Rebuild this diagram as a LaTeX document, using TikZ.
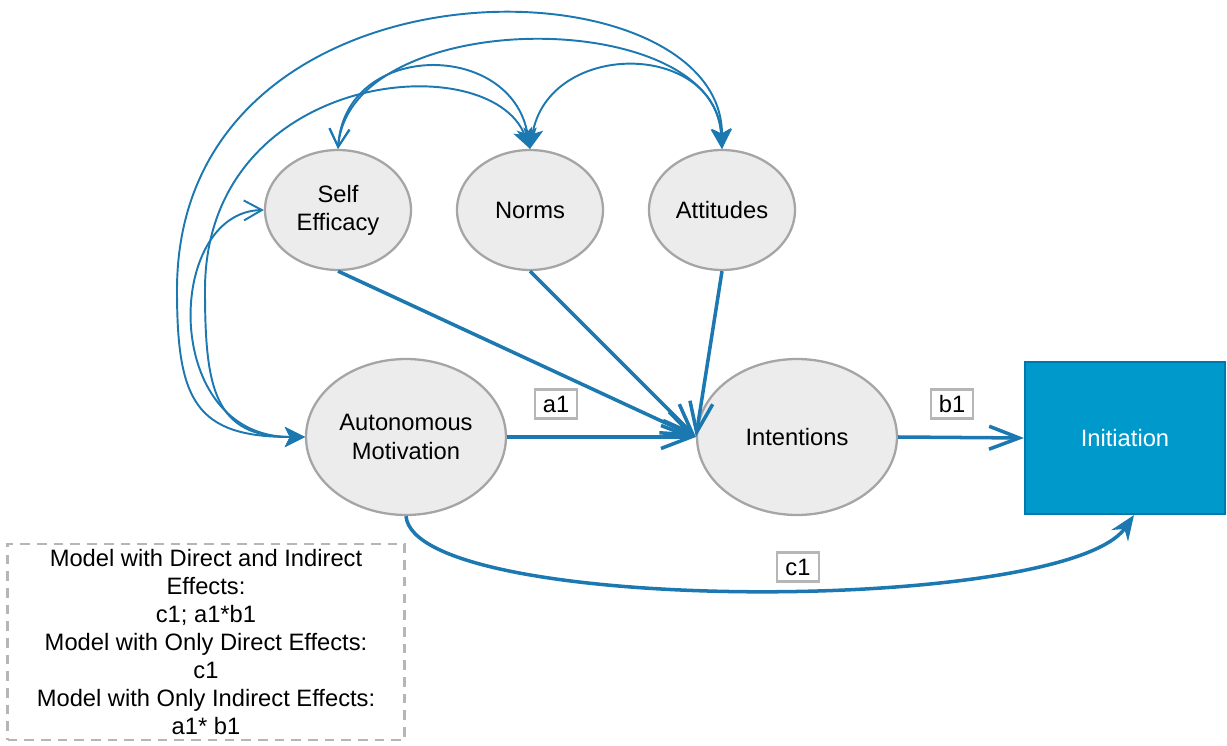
\documentclass[tikz,border=0pt]{standalone}
\usepackage{fontspec}
\setmainfont{Liberation Sans}
\usepackage{tikz}
\usetikzlibrary{arrows.meta, shapes, shapes.geometric, positioning, calc}
\usepackage{xcolor}

\definecolor{linkblue}{RGB}{28,120,176}
\definecolor{initfill}{RGB}{0,153,204}
\definecolor{initedge}{RGB}{0,120,174}
\definecolor{nodefill}{RGB}{236,236,236}
\definecolor{nodeedge}{RGB}{165,165,165}
\definecolor{boxedge}{RGB}{182,182,182}

\tikzset{
	covopen/.tip={Straight Barb[length=0.36cm, width=0.4cm]},
	covfull/.tip={Stealth[length=0.4cm, width=0.4cm, inset=0.1cm]},
	latent/.style={ellipse, draw=nodeedge, fill=nodefill, line width=1.3pt, align=center, inner sep=0pt},
	outcome/.style={rectangle, draw=initedge, fill=initfill, line width=1.2pt, text=white,
		minimum width=4cm, minimum height=3.04cm},
	coef/.style={rectangle, draw=boxedge, fill=white, line width=1.2pt,
		minimum width=0.84cm, minimum height=0.58cm, inner sep=1pt},
	legendbox/.style={rectangle, draw=boxedge, dash pattern=on 5.5pt off 4pt, line width=1.2pt,
		align=center, minimum width=7.94cm, minimum height=3.9cm,
		font=\fontsize{13.5pt}{15.9pt}\selectfont},
	effect/.style={draw=linkblue, line width=2pt, -{Straight Barb[length=0.6cm, width=0.46cm]}},
	covar/.style={draw=linkblue, line width=1.1pt}
}

\begin{document}
\begin{tikzpicture}[x=0.02cm, y=-0.02cm, font=\fontsize{13.5pt}{16pt}\selectfont]
	\useasboundingbox (0,0) rectangle (1227,746);

	\node[latent, minimum width=2.92cm, minimum height=2.4cm] (se) at (338,210) {Self\\Efficacy};
	\node[latent, minimum width=2.92cm, minimum height=2.4cm] (norms) at (530,210) {Norms};
	\node[latent, minimum width=2.92cm, minimum height=2.4cm] (att) at (722,210) {Attitudes};
	\node[latent, minimum width=4cm, minimum height=3.12cm] (am) at (406,437) {Autonomous\\Motivation};
	\node[latent, minimum width=4cm, minimum height=3.12cm] (int) at (797,437) {Intentions};
	\node[outcome] (init) at (1125,438) {Initiation};

	\node[coef] (a1) at (556,404) {a1};
	\node[coef] (b1) at (952,404) {b1};
	\node[coef] (c1) at (798,567) {c1};

	\node[legendbox] (key) at (206,642) {Model with Direct and Indirect\\Effects:\\c1; a1*b1\\Model with Only Direct Effects:\\c1\\Model with Only Indirect Effects:\\a1* b1};

	% correlations among the predictors
	\draw[covar, covfull-covfull] (am.west) .. controls (195,437) and (177,400) .. (177,290) .. controls (177,-55) and (722,-45) .. (att.north);
	\draw[covar, covfull-covfull] (am.west) .. controls (215,437) and (205,390) .. (205,290) .. controls (205,70) and (490,45) .. (norms.north);
	\draw[covar, covfull-covopen] (am.west) .. controls (160,437) and (165,212) .. (se.west);
	\draw[covar, covopen-covfull] (se.north) .. controls (350,5) and (715,5) .. (att.north);
	\draw[covar, covopen-covfull] (se.north) .. controls (345,40) and (512,40) .. (norms.north);
	\draw[covar, covfull-covfull] (norms.north) .. controls (548,40) and (715,40) .. (att.north);

	% direct paths
	\draw[effect] (se.south) -- (int.west);
	\draw[effect] (norms.south) -- (int.west);
	\draw[effect] (att.south) -- (int.west);
	\draw[effect] (am.east) -- (int.west);
	\draw[effect] (int.east) -- (init.west);
	\draw[draw=linkblue, line width=2pt, -{Stealth[length=0.5cm, width=0.4cm]}]
		(am.south) .. controls (415,615) and (1065,615) .. ([xshift=0.18cm]init.south);
\end{tikzpicture}
\end{document}
